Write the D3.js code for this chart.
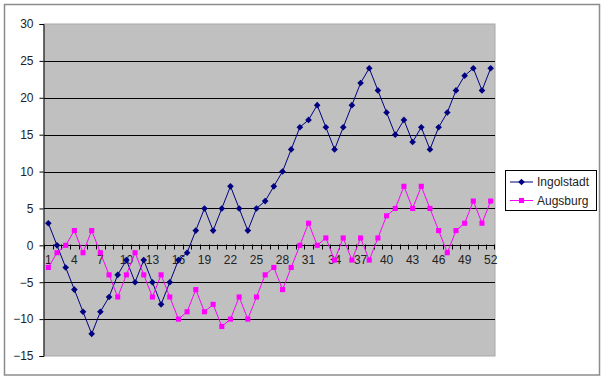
<!DOCTYPE html>
<meta charset="utf-8">
<style>
body { margin: 0; background: #fff; }
svg { display: block; }
.tick text, .legend text { font: 12px "Liberation Sans", Arial, sans-serif; fill: #222; }
</style>
<svg width="604" height="380"></svg>
<script src="https://d3js.org/d3.v7.min.js"></script>
<script>

// week numbers 1..52
var weeks = d3.range(1, 53);

var ingolstadt = [3,0,-3,-6,-9,-12,-9,-7,-4,-2,-5,-2,-5,-8,-5,-2,-1,2,5,2,
  5,8,5,2,5,6,8,10,13,16,17,19,16,13,16,19,22,24,21,18,
  15,17,14,16,13,16,18,21,23,24,21,24];

var augsburg = [-3,-1,0,2,-1,2,-1,-4,-7,-4,-1,-4,-7,-4,-7,-10,-9,-6,-9,-8,
  -11,-10,-7,-10,-7,-4,-3,-6,-3,0,3,0,1,-2,1,-2,1,-2,1,4,
  5,8,5,8,5,2,-1,2,3,6,3,6];

var yTicks = [-15,-10,-5,0,5,10,15,20,25,30];
var xLabels = weeks.filter(function(d) { return (d - 1) % 3 === 0; });

// rotated square looks closer to the excel diamond than d3.symbolDiamond
var series = [
  { name: "Ingolstadt", values: ingolstadt, color: "#000080", size: 22, rotate: 45 },
  { name: "Augsburg", values: augsburg, color: "#ff00ff", size: 26, rotate: 0 }
];

var svg = d3.select("svg");

// outer chart frame
svg.append("rect")
    .attr("x", 4.5).attr("y", 4.5)
    .attr("width", 595).attr("height", 370.5)
    .attr("fill", "#fff")
    .attr("stroke", "#8c8c8c")
    .attr("stroke-width", 1.5);

var plot = { left: 44, right: 495, top: 24, bottom: 356 };

var x = d3.scaleBand()
    .domain(weeks)
    .range([plot.left, plot.right])
    .padding(0);

var y = d3.scaleLinear()
    .domain([-15, 30])
    .range([plot.bottom, plot.top]);

function cx(i) { return x(weeks[i]) + x.bandwidth() / 2; }

// plot area
svg.append("rect")
    .attr("x", plot.left).attr("y", plot.top)
    .attr("width", plot.right - plot.left)
    .attr("height", plot.bottom - plot.top)
    .attr("fill", "#c0c0c0")
    .attr("stroke", "#a8a8a8");

// gridlines
svg.append("g")
  .selectAll("line")
  .data(yTicks.filter(function(d) { return d > -15 && d < 30 && d !== 0; }))
  .enter().append("line")
    .attr("x1", plot.left).attr("x2", plot.right)
    .attr("y1", function(d) { return Math.round(y(d)) + 0.5; })
    .attr("y2", function(d) { return Math.round(y(d)) + 0.5; })
    .attr("stroke", "#000")
    .attr("stroke-width", 1);

// y axis
var yAxis = svg.append("g")
    .attr("transform", "translate(" + (plot.left - 0.5) + ",0)")
    .call(d3.axisLeft(y).tickValues(yTicks).tickSize(4).tickPadding(6));
yAxis.select(".domain").attr("stroke", "#000");
yAxis.selectAll(".tick line").attr("stroke", "#000");

// x axis at zero
var y0 = Math.round(y(0)) + 0.5;
var xAxis = svg.append("g");
xAxis.append("line")
    .attr("x1", plot.left).attr("x2", plot.right)
    .attr("y1", y0).attr("y2", y0)
    .attr("stroke", "#000");
xAxis.selectAll("line.tk")
  .data(weeks.concat([null]))
  .enter().append("line")
    .attr("class", "tk")
    .attr("x1", function(d) { return d === null ? plot.right - 0.5 : Math.round(x(d)) + 0.5; })
    .attr("x2", function(d) { return d === null ? plot.right - 0.5 : Math.round(x(d)) + 0.5; })
    .attr("y1", y0 - 1).attr("y2", y0 + 4)
    .attr("stroke", "#000");
var xl = svg.append("g")
    .attr("transform", "translate(0," + (y0 + 4) + ")")
    .call(d3.axisBottom(x).tickValues(xLabels).tickSize(0).tickPadding(6));
xl.select(".domain").remove();

// lines and markers
var line = d3.line()
    .x(function(d, i) { return cx(i); })
    .y(function(d) { return y(d); });

series.forEach(function(s) {
  svg.append("path")
      .datum(s.values)
      .attr("fill", "none")
      .attr("stroke", s.color)
      .attr("stroke-width", 1)
      .attr("d", line);
  svg.append("g")
    .selectAll("path")
    .data(s.values)
    .enter().append("path")
      .attr("d", d3.symbol().type(d3.symbolSquare).size(s.size))
      .attr("transform", function(d, i) {
        return "translate(" + cx(i) + "," + y(d) + ") rotate(" + s.rotate + ")";
      })
      .attr("fill", s.color);
});

// legend
var legend = svg.append("g").attr("class", "legend");
legend.append("rect")
    .attr("x", 505.5).attr("y", 170.5)
    .attr("width", 91).attr("height", 40)
    .attr("fill", "#fff")
    .attr("stroke", "#000");
series.forEach(function(s, i) {
  var ly = 182 + i * 18.5;
  legend.append("line")
      .attr("x1", 510).attr("x2", 533)
      .attr("y1", ly).attr("y2", ly)
      .attr("stroke", s.color);
  legend.append("path")
      .attr("d", d3.symbol().type(d3.symbolSquare).size(s.size))
      .attr("transform", "translate(521.5," + ly + ") rotate(" + s.rotate + ")")
      .attr("fill", s.color);
  legend.append("text")
      .attr("x", 537).attr("y", ly)
      .attr("dy", "0.35em")
      .text(s.name);
});

</script>
